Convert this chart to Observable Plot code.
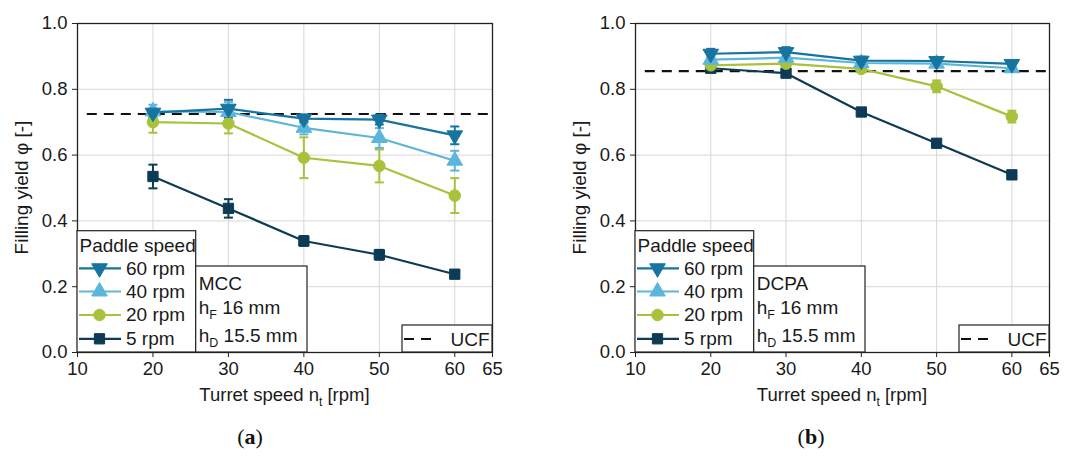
<!DOCTYPE html>
<html>
<head>
<meta charset="utf-8">
<script src="https://cdn.jsdelivr.net/npm/d3@7"></script>
<script src="https://cdn.jsdelivr.net/npm/@observablehq/plot@0.6"></script>
<style>
  html, body { margin: 0; padding: 0; background: #fff; }
  body { font-family: "Liberation Sans", Arial, sans-serif; }
  #wrap { display: flex; width: 1083px; height: 457px; }
  .panel { position: relative; height: 457px; }
  .cap { position: absolute; top: 424px; font-family: "Liberation Serif", "DejaVu Serif", serif; font-size: 22px; color: #111; transform: translateX(-50%); white-space: nowrap; }
  .cap b { font-weight: bold; }
</style>
</head>
<body>
<div id="wrap"></div>
<script>
// ---------- data ----------
const turretSpeeds = [20, 30, 40, 50, 60];
const paddleLabels = ["60 rpm", "40 rpm", "20 rpm", "5 rpm"];
const paddleColors = ["#17739f", "#5cb5da", "#a8c23c", "#0d3b55"];
const xTicks = [10, 20, 30, 40, 50, 60, 65];
const xGrid = [20, 30, 40, 50, 60];
const yTicks = [0, 0.2, 0.4, 0.6, 0.8, 1.0];
const yGrid = [0.2, 0.4, 0.6, 0.8];

// (a) MCC
const mcc60 = [0.729, 0.741, 0.711, 0.708, 0.660];
const mcc60Err = [0.012, 0.027, 0.012, 0.015, 0.027];
const mcc40 = [0.733, 0.731, 0.683, 0.652, 0.583];
const mcc40Err = [0.02, 0.03, 0.02, 0.03, 0.03];
const mcc20 = [0.700, 0.696, 0.592, 0.567, 0.477];
const mcc20Err = [0.032, 0.03, 0.062, 0.05, 0.053];
const mcc5 = [0.535, 0.438, 0.339, 0.297, 0.238];
const mcc5Err = [0.036, 0.028, 0.015, 0.015, 0.008];
const mccUCF = 0.725;

// (b) DCPA
const dcpa60 = [0.908, 0.913, 0.887, 0.886, 0.877];
const dcpa60Err = [0.015, 0.015, 0.012, 0.012, 0.012];
const dcpa40 = [0.890, 0.896, 0.880, 0.878, 0.864];
const dcpa40Err = [0.012, 0.012, 0.01, 0.01, 0.01];
const dcpa20 = [0.873, 0.878, 0.862, 0.809, 0.717];
const dcpa20Err = [0.01, 0.012, 0.01, 0.018, 0.018];
const dcpa5 = [0.864, 0.849, 0.731, 0.636, 0.540];
const dcpa5Err = [0.005, 0.008, 0.008, 0.008, 0.006];
const dcpaUCF = 0.855;

// ---------- symbols ----------
const sqrt3 = Math.sqrt(3);
const triangleDown = {
  draw(ctx, size) {
    const y = -Math.sqrt(size / (sqrt3 * 3));
    ctx.moveTo(0, -y * 2);
    ctx.lineTo(-sqrt3 * y, y);
    ctx.lineTo(sqrt3 * y, y);
    ctx.closePath();
  }
};
const capSymbol = {
  draw(ctx, size) { ctx.moveTo(-4.5, 0); ctx.lineTo(4.5, 0); }
};
const paddleSymbols = [triangleDown, d3.symbolTriangle, d3.symbolCircle, d3.symbolSquare];
const symbolNames = [triangleDown, "triangle", "circle", "square"];

function buildRows(means, errs) {
  const rows = [];
  // draw order: 5, 20, 40, 60 rpm (60 on top)
  for (let s = paddleLabels.length - 1; s >= 0; s--) {
    turretSpeeds.forEach((x, i) => rows.push({series: paddleLabels[s], x, y: means[s][i], e: errs[s][i]}));
  }
  return rows;
}

const textColor = "#1a1a1a";

function makePanel({width, marginLeft, marginRight, rows, ucf, material, caption}) {
  const height = 415, marginTop = 23, marginBottom = 63;
  const plot = Plot.plot({
    width, height, marginLeft, marginRight, marginTop, marginBottom,
    style: {fontFamily: "'Liberation Sans', Arial, sans-serif", fontSize: "18px", color: textColor, background: "white", overflow: "visible"},
    x: {domain: [10, 65]},
    y: {domain: [0, 1]},
    color: {domain: paddleLabels, range: paddleColors},
    symbol: {domain: paddleLabels, range: symbolNames},
    marks: [
      Plot.gridX(xGrid, {stroke: "#d7d7d7", strokeOpacity: 1, strokeWidth: 1}),
      Plot.gridY(yGrid, {stroke: "#d7d7d7", strokeOpacity: 1, strokeWidth: 1}),
      Plot.ruleY([ucf], {x1: 11.3, x2: 65, stroke: "#111", strokeWidth: 2.2, strokeDasharray: "10,7"}),
      Plot.ruleX(rows, {x: "x", y1: d => d.y - d.e, y2: d => d.y + d.e, stroke: "series", strokeWidth: 2}),
      Plot.dot(rows, {x: "x", y: d => d.y + d.e, symbol: capSymbol, r: 4, stroke: "series", fill: "none", strokeWidth: 2}),
      Plot.dot(rows, {x: "x", y: d => d.y - d.e, symbol: capSymbol, r: 4, stroke: "series", fill: "none", strokeWidth: 2}),
      Plot.line(rows, {x: "x", y: "y", z: "series", stroke: "series", strokeWidth: 2.2}),
      Plot.dot(rows, {x: "x", y: "y", symbol: "series", fill: "series", stroke: "series", strokeWidth: 1, r: 5.8}),
      Plot.frame({stroke: "#222", strokeWidth: 1.3}),
      Plot.axisX({ticks: xTicks, tickFormat: d => String(d), tickSize: 5, tickPadding: 4, label: null, stroke: "#222", fill: textColor, fontSize: 18.5}),
      Plot.axisY({ticks: yTicks, tickFormat: d3.format(".1f"), tickSize: 5, tickPadding: 5, label: null, stroke: "#222", fill: textColor, fontSize: 18.5})
    ]
  });

  const svg = d3.select(plot);
  const x0 = marginLeft, x1 = width - marginRight;
  const yBottom = height - marginBottom;
  const font = "'Liberation Sans', Arial, sans-serif";
  const g = svg.append("g").attr("font-family", font).attr("font-size", 19).attr("fill", textColor).attr("text-anchor", "start");

  // axis labels
  g.append("text")
    .attr("transform", `translate(${x0 - 55.5},${(marginTop + yBottom) / 2}) rotate(-90)`)
    .attr("text-anchor", "middle").attr("dy", "0.35em")
    .text("Filling yield φ [-]");
  const xl = g.append("text")
    .attr("x", (x0 + x1) / 2).attr("y", 401).attr("text-anchor", "middle").attr("font-size", 18.5);
  xl.append("tspan").text("Turret speed n");
  xl.append("tspan").attr("font-size", 12).attr("dy", 5).text("t");
  xl.append("tspan").attr("dy", -5).text(" [rpm]");

  // legend: paddle speed box
  const boxW1 = 118.7, boxTop1 = 230.7;
  g.append("rect").attr("x", x0).attr("y", boxTop1).attr("width", boxW1).attr("height", yBottom - boxTop1)
    .attr("fill", "white").attr("stroke", "#222").attr("stroke-width", 1.2);
  g.append("text").attr("x", x0 + 2.5).attr("y", 251.5).text("Paddle speed");
  const rowY = [268.3, 291.5, 315, 338.8];
  paddleLabels.forEach((lab, i) => {
    const cy = rowY[i];
    g.append("line").attr("x1", x0 + 2).attr("x2", x0 + 44).attr("y1", cy).attr("y2", cy)
      .attr("stroke", paddleColors[i]).attr("stroke-width", 2.2);
    g.append("path").attr("transform", `translate(${x0 + 22.5},${cy})`)
      .attr("d", d3.symbol().type(paddleSymbols[i]).size(5.8 * 5.8 * Math.PI)())
      .attr("fill", paddleColors[i]).attr("stroke", paddleColors[i]).attr("stroke-width", 1);
    g.append("text").attr("x", x0 + 49).attr("y", cy + 6.4).text(lab);
  });

  // material box
  const bx2 = x0 + boxW1, boxW2 = 111.3, boxTop2 = 266;
  g.append("rect").attr("x", bx2).attr("y", boxTop2).attr("width", boxW2).attr("height", yBottom - boxTop2)
    .attr("fill", "white").attr("stroke", "#222").attr("stroke-width", 1.2);
  g.append("text").attr("x", bx2 + 3).attr("y", 289.5).text(material);
  const hf = g.append("text").attr("x", bx2 + 3).attr("y", 313.5);
  hf.append("tspan").text("h");
  hf.append("tspan").attr("font-size", 12.5).attr("dy", 5).text("F");
  hf.append("tspan").attr("dy", -5).text(" 16 mm");
  const hd = g.append("text").attr("x", bx2 + 3).attr("y", 341.5);
  hd.append("tspan").text("h");
  hd.append("tspan").attr("font-size", 12.5).attr("dy", 5).text("D");
  hd.append("tspan").attr("dy", -5).text(" 15.5 mm");

  // UCF box
  const ucfW = 90, ucfTop = 325;
  g.append("rect").attr("x", x1 - ucfW).attr("y", ucfTop).attr("width", ucfW).attr("height", yBottom - ucfTop)
    .attr("fill", "white").attr("stroke", "#222").attr("stroke-width", 1.2);
  g.append("line").attr("x1", x1 - ucfW + 2).attr("x2", x1 - ucfW + 35).attr("y1", 339).attr("y2", 339)
    .attr("stroke", "#111").attr("stroke-width", 2.2).attr("stroke-dasharray", "10,7");
  g.append("text").attr("x", x1 - 41.5).attr("y", 345.5).text("UCF");

  const div = document.createElement("div");
  div.className = "panel";
  div.style.width = width + "px";
  div.appendChild(plot);
  const cap = document.createElement("div");
  cap.className = "cap";
  cap.style.left = (caption.x) + "px";
  cap.innerHTML = `(<b>${caption.t}</b>)`;
  div.appendChild(cap);
  return div;
}

const wrap = document.getElementById("wrap");
wrap.appendChild(makePanel({
  width: 540, marginLeft: 77, marginRight: 48,
  rows: buildRows([mcc60, mcc40, mcc20, mcc5], [mcc60Err, mcc40Err, mcc20Err, mcc5Err]),
  ucf: mccUCF, material: "MCC", caption: {t: "a", x: 250}
}));
wrap.appendChild(makePanel({
  width: 543, marginLeft: 95, marginRight: 34,
  rows: buildRows([dcpa60, dcpa40, dcpa20, dcpa5], [dcpa60Err, dcpa40Err, dcpa20Err, dcpa5Err]),
  ucf: dcpaUCF, material: "DCPA", caption: {t: "b", x: 271}
}));
</script>
</body>
</html>
